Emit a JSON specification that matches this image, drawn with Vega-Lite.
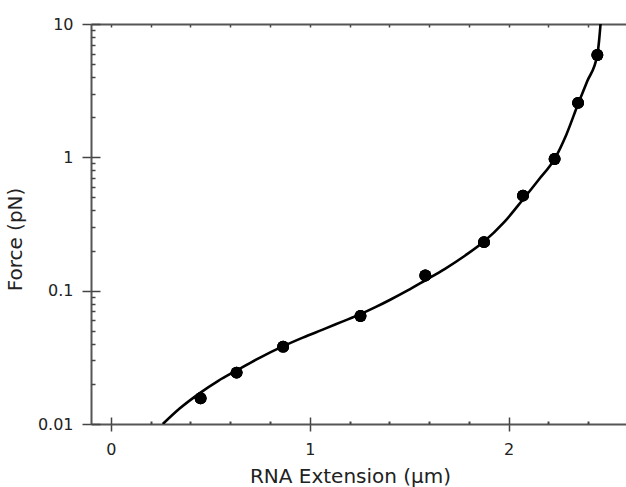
{
  "$schema": "https://vega.github.io/schema/vega-lite/v6.json",
  "width": 535,
  "height": 400,
  "autosize": {"type": "none"},
  "padding": {"left": 91, "top": 24, "right": 0, "bottom": 63},
  "background": "white",
  "config": {
    "view": {"stroke": null},
    "axis": {
      "grid": false,
      "domainColor": "#555",
      "domainWidth": 2,
      "tickColor": "#444",
      "tickWidth": 1.5,
      "labelFont": "DejaVu Sans",
      "titleFont": "DejaVu Sans",
      "labelColor": "#222",
      "titleColor": "#222",
      "titleFontWeight": "normal"
    }
  },
  "datasets": {
    "fit": [
      {"x": 0.261, "F": 0.0100},
      {"x": 0.347, "F": 0.01312},
      {"x": 0.447, "F": 0.01706},
      {"x": 0.540, "F": 0.02109},
      {"x": 0.633, "F": 0.02523},
      {"x": 0.750, "F": 0.03148},
      {"x": 0.864, "F": 0.03819},
      {"x": 0.965, "F": 0.04446},
      {"x": 1.065, "F": 0.05105},
      {"x": 1.160, "F": 0.05834},
      {"x": 1.255, "F": 0.06668},
      {"x": 1.330, "F": 0.07516},
      {"x": 1.402, "F": 0.08511},
      {"x": 1.490, "F": 0.1000},
      {"x": 1.581, "F": 0.1197},
      {"x": 1.680, "F": 0.1459},
      {"x": 1.780, "F": 0.1828},
      {"x": 1.876, "F": 0.2333},
      {"x": 1.975, "F": 0.3236},
      {"x": 2.072, "F": 0.4831},
      {"x": 2.150, "F": 0.6761},
      {"x": 2.231, "F": 0.9727},
      {"x": 2.290, "F": 1.479},
      {"x": 2.349, "F": 2.512},
      {"x": 2.395, "F": 3.715},
      {"x": 2.446, "F": 5.888},
      {"x": 2.455, "F": 7.586},
      {"x": 2.462, "F": 10.0}
    ],
    "pts": [
      {"x": 0.451, "F": 0.0156},
      {"x": 0.632, "F": 0.0243},
      {"x": 0.866, "F": 0.0380},
      {"x": 1.255, "F": 0.0646},
      {"x": 1.581, "F": 0.130},
      {"x": 1.876, "F": 0.231},
      {"x": 2.072, "F": 0.516},
      {"x": 2.231, "F": 0.972},
      {"x": 2.349, "F": 2.56},
      {"x": 2.446, "F": 5.86}
    ]
  },
  "resolve": {"axis": {"x": "independent", "y": "independent"}},
  "layer": [
    {
      "data": {"name": "fit"},
      "mark": {"type": "line", "color": "black", "strokeWidth": 2.6, "interpolate": "monotone", "clip": true},
      "encoding": {
        "x": {
          "field": "x", "type": "quantitative",
          "scale": {"domain": [-0.1, 2.59], "nice": false, "zero": false},
          "axis": {"orient": "bottom", "values": [0, 1, 2], "tickSize": 7, "labelFontSize": 16, "labelPadding": 10, "title": "RNA Extension (µm)", "titleFontSize": 20, "titlePadding": 9, "titleX": 259}
        },
        "y": {
          "field": "F", "type": "quantitative",
          "scale": {"type": "log", "domain": [0.01, 10], "nice": false},
          "axis": {"orient": "left", "values": [0.01, 0.1, 1, 10], "format": "~g", "tickSize": 9, "labelFontSize": 16, "labelPadding": 9, "title": "Force (pN)", "titleFontSize": 20, "titlePadding": 12, "titleY": 215}
        }
      }
    },
    {
      "data": {"name": "pts"},
      "mark": {"type": "circle", "color": "black", "opacity": 1, "size": 140},
      "encoding": {
        "x": {
          "field": "x", "type": "quantitative",
          "scale": {"domain": [-0.1, 2.59], "nice": false, "zero": false},
          "axis": {"orient": "bottom", "values": [0, 1, 2], "tickSize": -7, "labels": false, "domain": false, "title": null}
        },
        "y": {
          "field": "F", "type": "quantitative",
          "scale": {"type": "log", "domain": [0.01, 10], "nice": false},
          "axis": {"orient": "left", "values": [0.01, 0.1, 1, 10], "tickSize": -9, "labels": false, "domain": false, "title": null}
        }
      }
    },
    {
      "data": {"name": "pts"},
      "mark": {"type": "circle", "color": "black", "opacity": 1, "size": 140},
      "encoding": {
        "x": {
          "field": "x", "type": "quantitative",
          "scale": {"domain": [-0.1, 2.59], "nice": false, "zero": false},
          "axis": {"orient": "bottom", "values": [0.2, 0.4, 0.6, 0.8, 1.2, 1.4, 1.6, 1.8, 2.2, 2.4], "tickSize": -3, "tickWidth": 2, "labels": false, "domain": false, "title": null}
        },
        "y": {
          "field": "F", "type": "quantitative",
          "scale": {"type": "log", "domain": [0.01, 10], "nice": false},
          "axis": {"orient": "left", "values": [0.02, 0.03, 0.04, 0.05, 0.06, 0.07, 0.08, 0.09, 0.2, 0.3, 0.4, 0.5, 0.6, 0.7, 0.8, 0.9, 2, 3, 4, 5, 6, 7, 8, 9], "tickSize": -4, "labels": false, "domain": false, "title": null}
        }
      }
    },
    {
      "data": {"name": "pts"},
      "mark": {"type": "circle", "color": "black", "opacity": 1, "size": 140},
      "encoding": {
        "x": {
          "field": "x", "type": "quantitative",
          "scale": {"domain": [-0.1, 2.59], "nice": false, "zero": false},
          "axis": {"orient": "top", "values": [0, 0.2, 0.4, 0.6, 0.8, 1, 1.2, 1.4, 1.6, 1.8, 2, 2.2, 2.4], "tickSize": -3, "labels": false, "domain": true, "title": null}
        },
        "y": {
          "field": "F", "type": "quantitative",
          "scale": {"type": "log", "domain": [0.01, 10], "nice": false},
          "axis": null
        }
      }
    }
  ]
}
